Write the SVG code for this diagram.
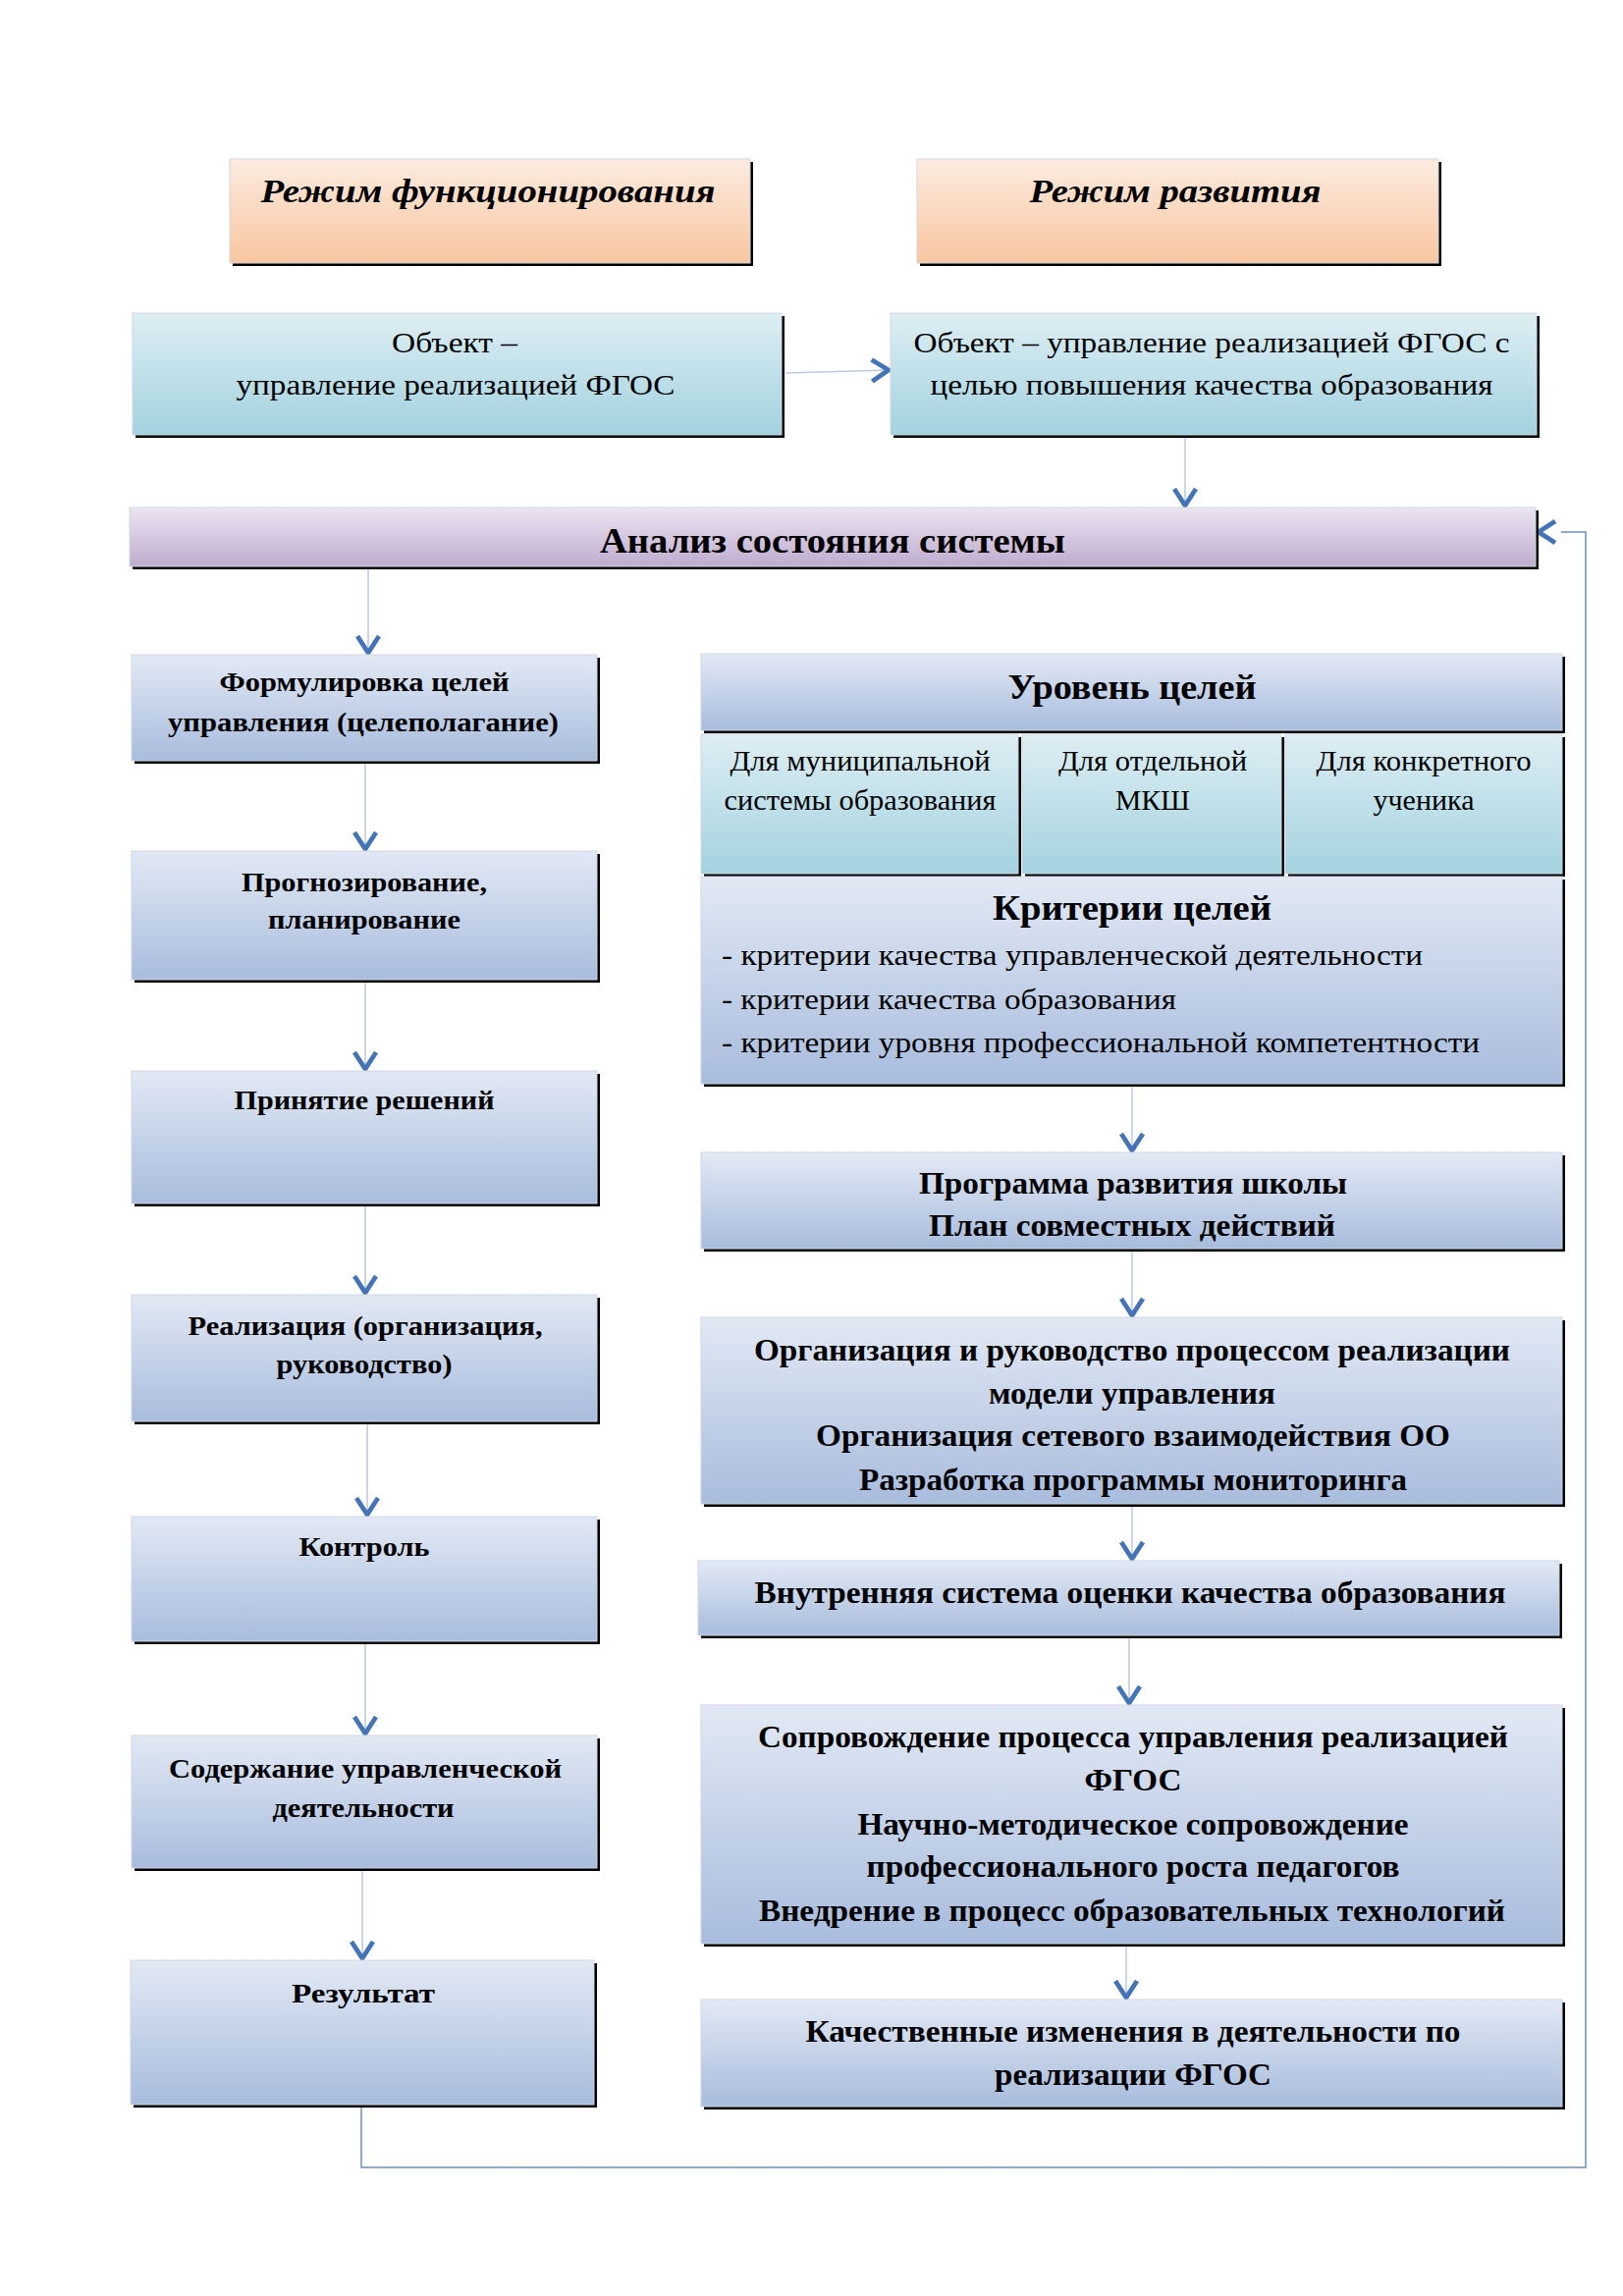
<svg xmlns="http://www.w3.org/2000/svg" width="1653" height="2339" viewBox="0 0 1653 2339">
<defs>
<linearGradient id="gOrange" x1="0" y1="0" x2="0" y2="1"><stop offset="0" stop-color="#fcebdf"/><stop offset="1" stop-color="#f8c6a0"/></linearGradient>
<linearGradient id="gTeal" x1="0" y1="0" x2="0" y2="1"><stop offset="0" stop-color="#deeef3"/><stop offset="1" stop-color="#a2d2df"/></linearGradient>
<linearGradient id="gPurple" x1="0" y1="0" x2="0" y2="1"><stop offset="0" stop-color="#ebe5f1"/><stop offset="1" stop-color="#bfaccf"/></linearGradient>
<linearGradient id="gBlue" x1="0" y1="0" x2="0" y2="1"><stop offset="0" stop-color="#e2e9f4"/><stop offset="1" stop-color="#a8bcdd"/></linearGradient>
<marker id="chev" viewBox="0 0 22 26" refX="19" refY="13" markerWidth="22" markerHeight="26" markerUnits="userSpaceOnUse" orient="auto">
<path d="M2,2 L19,13 L2,24" fill="none" stroke="#4574b6" stroke-width="4.8"/>
</marker>
<style>
.sh{fill:#000}
.bx{stroke:#cfd8e3;stroke-width:1}
.or{fill:url(#gOrange)}
.te{fill:url(#gTeal)}
.pu{fill:url(#gPurple)}
.bl{fill:url(#gBlue)}
text{font-family:"Liberation Serif","Times New Roman",serif;fill:#000;text-anchor:middle}
.bi{font-weight:bold;font-style:italic;font-size:34px}
.rg{font-size:30px}
.bd{font-weight:bold;font-size:32px}
.lb{font-weight:bold;font-size:28px}
.lf{text-anchor:start}
.cn{fill:none;stroke:#bccadb;stroke-width:1.5}
.ar{marker-end:url(#chev)}
.fb{fill:none;stroke:#6d8fc0;stroke-width:1.5}
</style>
</defs>
<rect x="0" y="0" width="1653" height="2339" fill="#fff"/>

<g id="connectors">
<path class="cn ar" d="M800,380 L905,377"/>
<path class="cn ar" d="M1207,443 L1207,515"/>
<path class="cn ar" d="M375,577 L375,665"/>
<path class="cn ar" d="M372,775 L372,865"/>
<path class="cn ar" d="M372,998 L372,1089"/>
<path class="cn ar" d="M372,1226 L372,1317"/>
<path class="cn ar" d="M374,1448 L374,1543"/>
<path class="cn ar" d="M372,1672 L372,1766"/>
<path class="cn ar" d="M369,1903 L369,1995"/>
<path class="cn ar" d="M1153,1104 L1153,1172"/>
<path class="cn ar" d="M1153,1272 L1153,1340"/>
<path class="cn ar" d="M1153,1532 L1153,1588"/>
<path class="cn ar" d="M1150,1666 L1150,1735"/>
<path class="cn ar" d="M1147,1980 L1147,2035"/>
<path class="fb" d="M368,2146 L368,2208 L1615,2208 L1615,542 L1590,542"/>
<path class="cn ar" d="M1592,542 L1567,542" style="stroke:none"/>
</g>

<g id="n1">
<rect class="sh" x="237" y="165" width="530" height="106"/>
<rect class="bx or" x="234" y="162" width="530" height="106"/>
<text class="bi" x="497" y="206" textLength="463" lengthAdjust="spacingAndGlyphs">Режим функционирования</text>
</g>
<g id="n2">
<rect class="sh" x="937" y="165" width="531" height="106"/>
<rect class="bx or" x="934" y="162" width="531" height="106"/>
<text class="bi" x="1197" y="206" textLength="297" lengthAdjust="spacingAndGlyphs">Режим развития</text>
</g>
<g id="n3">
<rect class="sh" x="138" y="322" width="661" height="124"/>
<rect class="bx te" x="135" y="319" width="661" height="124"/>
<text class="rg" x="463" y="359" textLength="128" lengthAdjust="spacingAndGlyphs">Объект –</text>
<text class="rg" x="464" y="402" textLength="447" lengthAdjust="spacingAndGlyphs">управление реализацией ФГОС</text>
</g>
<g id="n4">
<rect class="sh" x="910" y="322" width="658" height="124"/>
<rect class="bx te" x="907" y="319" width="658" height="124"/>
<text class="rg" x="1234" y="359" textLength="607" lengthAdjust="spacingAndGlyphs">Объект – управление реализацией ФГОС с</text>
<text class="rg" x="1234" y="402" textLength="573" lengthAdjust="spacingAndGlyphs">целью повышения качества образования</text>
</g>
<g id="n5">
<rect class="sh" x="135" y="520" width="1432" height="60"/>
<rect class="bx pu" x="132" y="517" width="1432" height="60"/>
<text class="bd" x="848" y="563" style="font-size:35px" textLength="474" lengthAdjust="spacingAndGlyphs">Анализ состояния системы</text>
</g>

<g id="n6">
<rect class="sh" x="137" y="670" width="474" height="108"/>
<rect class="bx bl" x="134" y="667" width="474" height="108"/>
<text class="lb" x="371" y="704" textLength="295" lengthAdjust="spacingAndGlyphs">Формулировка целей</text>
<text class="lb" x="370" y="745" textLength="398" lengthAdjust="spacingAndGlyphs">управления (целеполагание)</text>
</g>
<g id="n7">
<rect class="sh" x="137" y="870" width="474" height="131"/>
<rect class="bx bl" x="134" y="867" width="474" height="131"/>
<text class="lb" x="371" y="908" textLength="250" lengthAdjust="spacingAndGlyphs">Прогнозирование,</text>
<text class="lb" x="371" y="946" textLength="196" lengthAdjust="spacingAndGlyphs">планирование</text>
</g>
<g id="n8">
<rect class="sh" x="137" y="1094" width="474" height="135"/>
<rect class="bx bl" x="134" y="1091" width="474" height="135"/>
<text class="lb" x="371" y="1130" textLength="265" lengthAdjust="spacingAndGlyphs">Принятие решений</text>
</g>
<g id="n9">
<rect class="sh" x="137" y="1322" width="474" height="129"/>
<rect class="bx bl" x="134" y="1319" width="474" height="129"/>
<text class="lb" x="372" y="1360" textLength="361" lengthAdjust="spacingAndGlyphs">Реализация (организация,</text>
<text class="lb" x="371" y="1399" textLength="179" lengthAdjust="spacingAndGlyphs">руководство)</text>
</g>
<g id="n10">
<rect class="sh" x="137" y="1548" width="474" height="127"/>
<rect class="bx bl" x="134" y="1545" width="474" height="127"/>
<text class="lb" x="371" y="1585" textLength="133" lengthAdjust="spacingAndGlyphs">Контроль</text>
</g>
<g id="n11">
<rect class="sh" x="137" y="1771" width="474" height="135"/>
<rect class="bx bl" x="134" y="1768" width="474" height="135"/>
<text class="lb" x="372" y="1811" textLength="400" lengthAdjust="spacingAndGlyphs">Содержание управленческой</text>
<text class="lb" x="370" y="1851" textLength="185" lengthAdjust="spacingAndGlyphs">деятельности</text>
</g>
<g id="n12">
<rect class="sh" x="136" y="2000" width="472" height="147"/>
<rect class="bx bl" x="133" y="1997" width="472" height="147"/>
<text class="lb" x="370" y="2040" textLength="146" lengthAdjust="spacingAndGlyphs">Результат</text>
</g>

<g id="n13">
<rect class="sh" x="717" y="669" width="877" height="78"/>
<rect class="bx bl" x="714" y="666" width="877" height="78"/>
<text class="bd" x="1153" y="712" style="font-size:36px" textLength="253" lengthAdjust="spacingAndGlyphs">Уровень целей</text>
</g>
<g id="n13a">
<rect class="sh" x="717" y="751" width="323" height="142"/>
<rect class="bx te" x="714" y="748" width="323" height="142"/>
<text class="rg" x="876" y="785" textLength="265" lengthAdjust="spacingAndGlyphs">Для муниципальной</text>
<text class="rg" x="876" y="825" textLength="277" lengthAdjust="spacingAndGlyphs">системы образования</text>
</g>
<g id="n13b">
<rect class="sh" x="1044" y="751" width="264" height="142"/>
<rect class="bx te" x="1041" y="748" width="264" height="142"/>
<text class="rg" x="1174" y="785" textLength="192" lengthAdjust="spacingAndGlyphs">Для отдельной</text>
<text class="rg" x="1174" y="825" textLength="76" lengthAdjust="spacingAndGlyphs">МКШ</text>
</g>
<g id="n13c">
<rect class="sh" x="1312" y="751" width="282" height="142"/>
<rect class="bx te" x="1309" y="748" width="282" height="142"/>
<text class="rg" x="1450" y="785" textLength="219" lengthAdjust="spacingAndGlyphs">Для конкретного</text>
<text class="rg" x="1450" y="825" textLength="103" lengthAdjust="spacingAndGlyphs">ученика</text>
</g>
<g id="n14">
<rect class="sh" x="717" y="896" width="877" height="211"/>
<rect class="bx bl" x="714" y="893" width="877" height="211"/>
<text class="bd" x="1153" y="937" style="font-size:36px" textLength="284" lengthAdjust="spacingAndGlyphs">Критерии целей</text>
<text class="rg lf" x="735" y="983" textLength="714" lengthAdjust="spacingAndGlyphs">- критерии качества управленческой деятельности</text>
<text class="rg lf" x="735" y="1028" textLength="463" lengthAdjust="spacingAndGlyphs">- критерии качества образования</text>
<text class="rg lf" x="735" y="1072" textLength="772" lengthAdjust="spacingAndGlyphs">- критерии уровня профессиональной компетентности</text>
</g>
<g id="n15">
<rect class="sh" x="717" y="1177" width="877" height="98"/>
<rect class="bx bl" x="714" y="1174" width="877" height="98"/>
<text class="bd" x="1154" y="1216" textLength="436" lengthAdjust="spacingAndGlyphs">Программа развития школы</text>
<text class="bd" x="1153" y="1259" textLength="414" lengthAdjust="spacingAndGlyphs">План совместных действий</text>
</g>
<g id="n16">
<rect class="sh" x="717" y="1345" width="877" height="190"/>
<rect class="bx bl" x="714" y="1342" width="877" height="190"/>
<text class="bd" x="1153" y="1386" textLength="770" lengthAdjust="spacingAndGlyphs">Организация и руководство процессом реализации</text>
<text class="bd" x="1153" y="1430" textLength="292" lengthAdjust="spacingAndGlyphs">модели управления</text>
<text class="bd" x="1154" y="1473" textLength="646" lengthAdjust="spacingAndGlyphs">Организация сетевого взаимодействия ОО</text>
<text class="bd" x="1154" y="1518" textLength="558" lengthAdjust="spacingAndGlyphs">Разработка программы мониторинга</text>
</g>
<g id="n17">
<rect class="sh" x="714" y="1593" width="877" height="76"/>
<rect class="bx bl" x="711" y="1590" width="877" height="76"/>
<text class="bd" x="1151" y="1633" textLength="765" lengthAdjust="spacingAndGlyphs">Внутренняя система оценки качества образования</text>
</g>
<g id="n18">
<rect class="sh" x="717" y="1740" width="877" height="243"/>
<rect class="bx bl" x="714" y="1737" width="877" height="243"/>
<text class="bd" x="1154" y="1780" textLength="764" lengthAdjust="spacingAndGlyphs">Сопровождение процесса управления реализацией</text>
<text class="bd" x="1154" y="1824" textLength="99" lengthAdjust="spacingAndGlyphs">ФГОС</text>
<text class="bd" x="1154" y="1869" textLength="561" lengthAdjust="spacingAndGlyphs">Научно-методическое сопровождение</text>
<text class="bd" x="1154" y="1912" textLength="543" lengthAdjust="spacingAndGlyphs">профессионального роста педагогов</text>
<text class="bd" x="1153" y="1957" textLength="760" lengthAdjust="spacingAndGlyphs">Внедрение в процесс образовательных технологий</text>
</g>
<g id="n19">
<rect class="sh" x="717" y="2040" width="877" height="109"/>
<rect class="bx bl" x="714" y="2037" width="877" height="109"/>
<text class="bd" x="1154" y="2080" textLength="667" lengthAdjust="spacingAndGlyphs">Качественные изменения в деятельности по</text>
<text class="bd" x="1154" y="2124" textLength="282" lengthAdjust="spacingAndGlyphs">реализации ФГОС</text>
</g>
</svg>
